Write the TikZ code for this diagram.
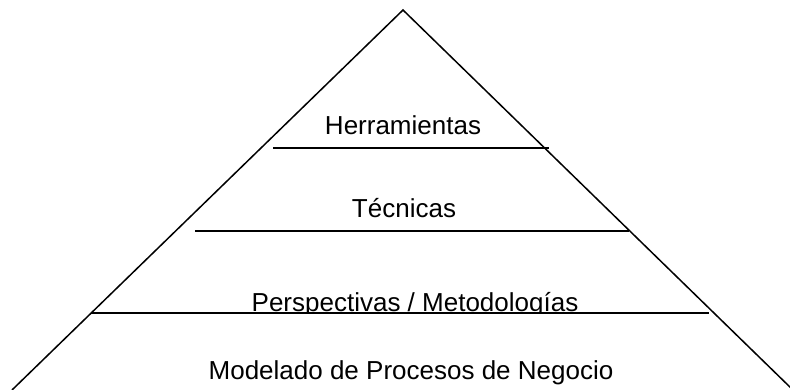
\documentclass[tikz,border=0pt]{standalone}
\usepackage{fontspec}
\setmainfont{Liberation Sans}
\begin{document}
\begin{tikzpicture}[x=1pt,y=-1pt,
  edge/.style={line width=1.5pt, black},
  level/.style={anchor=base, inner sep=0pt, font=\fontsize{26}{30}\selectfont}]
\useasboundingbox (0,0) rectangle (790,389);
% pyramid outline
\coordinate (apex) at (403,10);
\coordinate (bl) at (12,390);
\coordinate (br) at (793,390);
\draw[edge, line join=miter] (bl) -- (apex) -- (br);
% dividing lines
\coordinate (h1) at (273,148); \coordinate (h2) at (549,148);
\coordinate (t1) at (195,231); \coordinate (t2) at (629,231);
\coordinate (p1) at (91,313);  \coordinate (p2) at (709,313);
\draw[edge] (h1) -- (h2);
\draw[edge] (t1) -- (t2);
\draw[edge] (p1) -- (p2);
% labels
\node[level] (herr) at (403,134) {Herramientas};
\node[level] (tec) at (404,217) {Técnicas};
\begin{scope}
\clip (0,0) rectangle (790,311.5);
\node[level] (pers) at (415,311) {Perspectivas / Metodologías};
\end{scope}
\node[level] (mod) at (411,379) {Modelado de Procesos de Negocio};
\end{tikzpicture}
\end{document}
